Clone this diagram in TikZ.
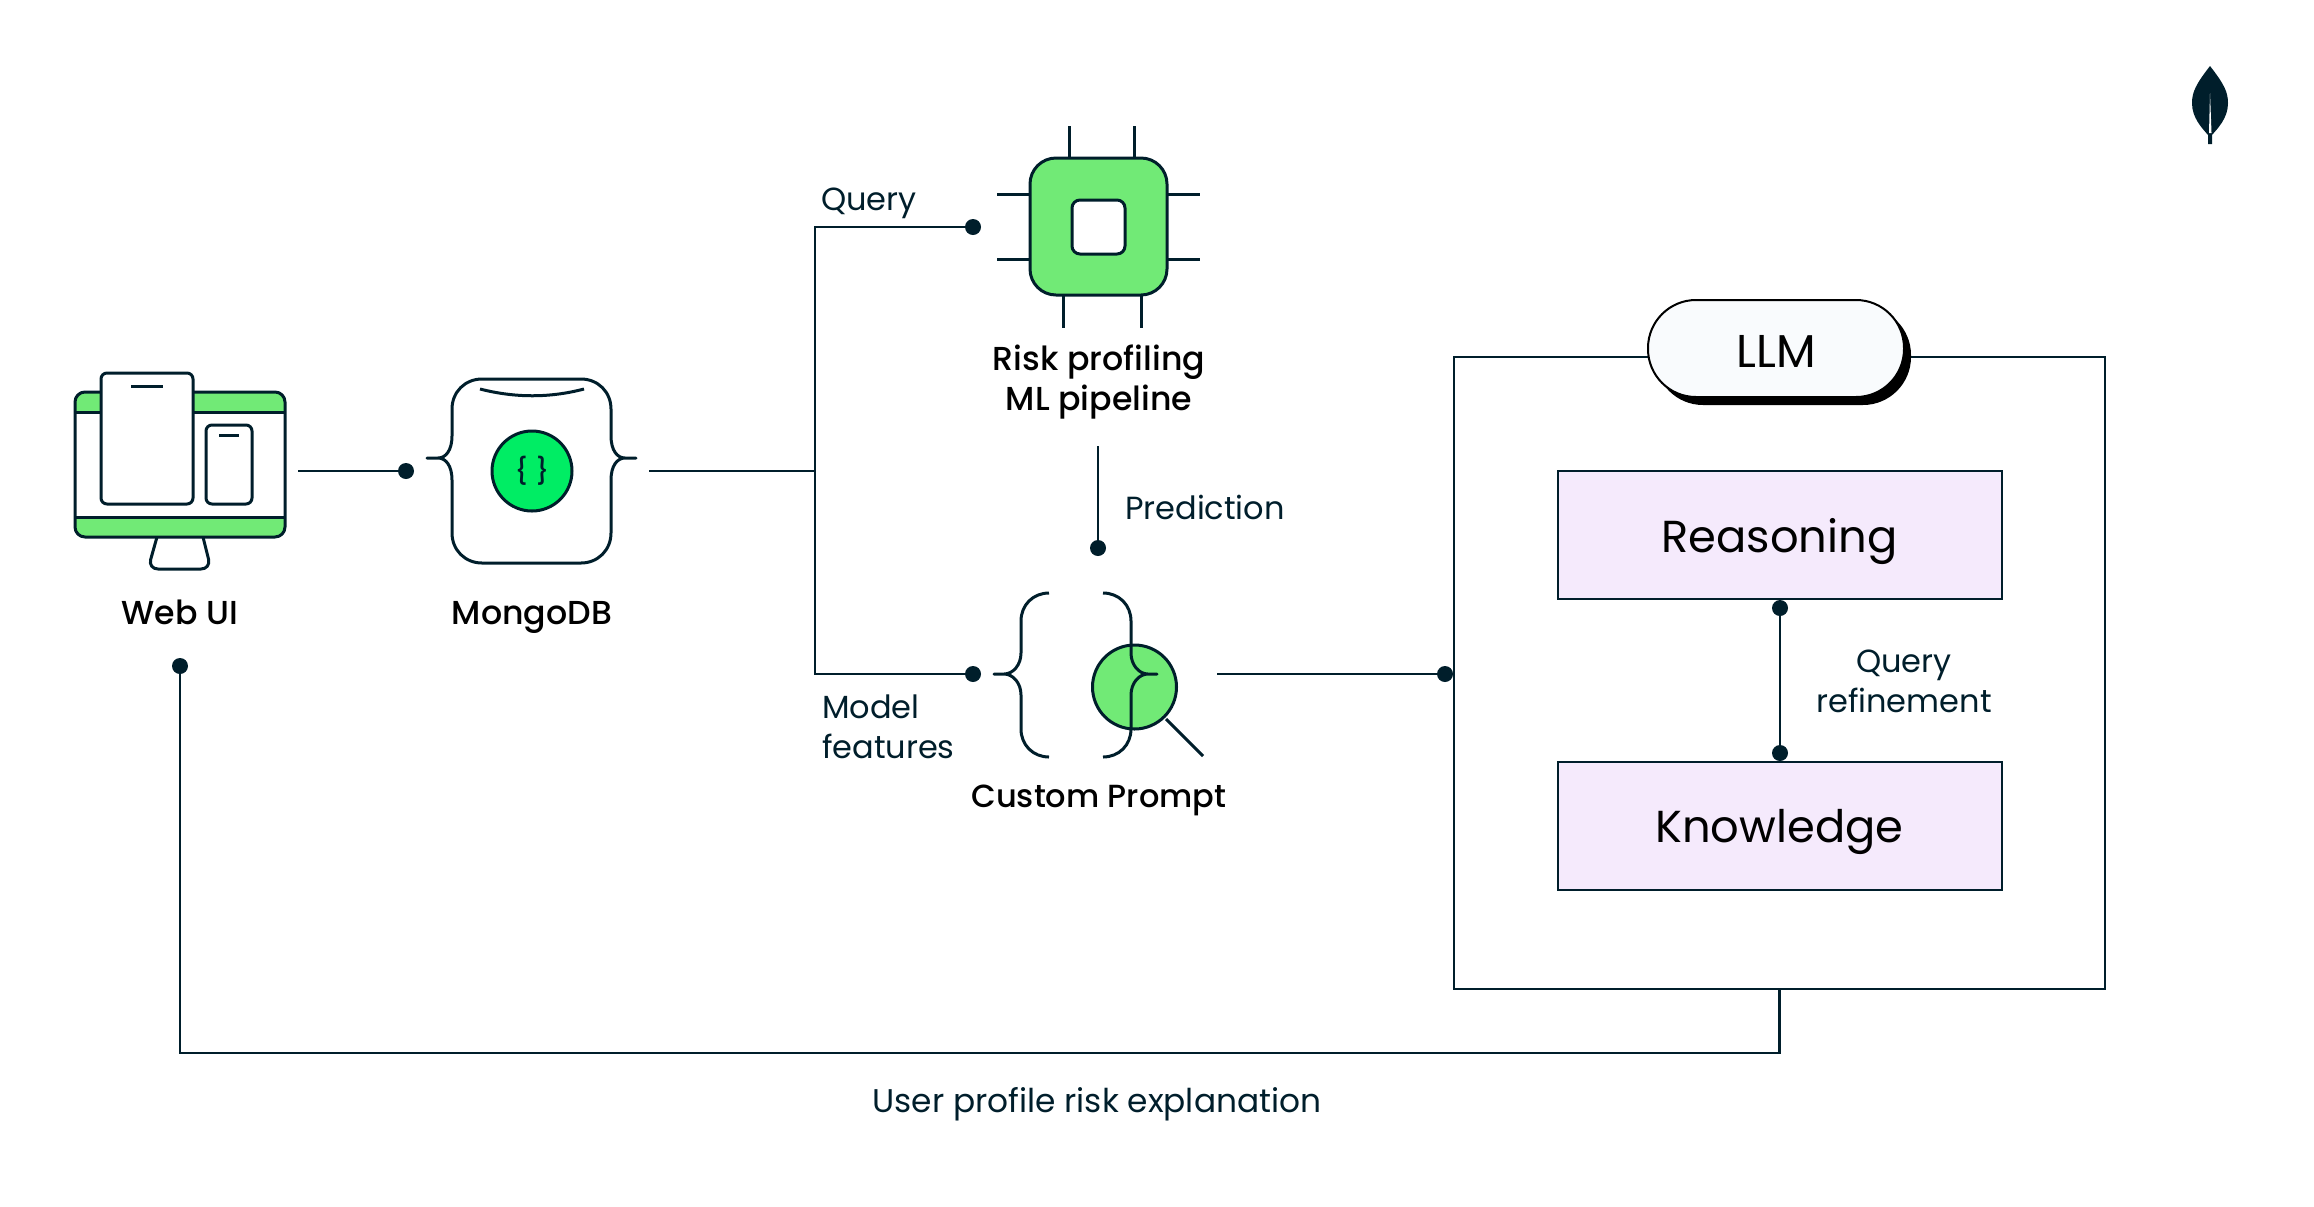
\documentclass[tikz,border=0pt]{standalone}
\usepackage{fontspec}
\setmainfont{Poppins}
\newfontfamily\medfont{Poppins Medium}
\usetikzlibrary{positioning}
\definecolor{ink}{HTML}{001E2B}
\definecolor{leafgreen}{HTML}{71EA76}
\definecolor{brightgreen}{HTML}{00ED64}
\definecolor{lilac}{HTML}{F5EAFC}
\definecolor{pillwhite}{HTML}{F9FBFD}
\tikzset{
    icon/.style={draw=ink,line width=1.5pt,line join=round},
    wire/.style={draw=ink,line width=1.1pt},
    dotnode/.style={circle,fill=ink,inner sep=0pt,minimum size=8pt},
    title/.style={font=\medfont\fontsize{16.6}{20}\selectfont,text=black,align=center},
    note/.style={font=\fontsize{16}{20}\selectfont,text=ink,align=center},
    block/.style={draw=ink,line width=1pt,fill=lilac,minimum width=222pt,minimum height=64pt,text depth=0pt,font=\fontsize{22.4}{26}\selectfont,text=black}
}
\begin{document}
\begin{tikzpicture}[x=0.5pt,y=-0.5pt]
    \useasboundingbox (0,0) rectangle (2314,1206);
    % web ui
    \def\mymonitor{(75,392) rectangle (285,537)}
    \draw [icon,rounded corners=5pt,fill=white] (157,537) -- (148,569) -- (211,569) -- (203,537);
    \begin{scope}
        \clip [rounded corners=5pt] \mymonitor;
        \fill [white] \mymonitor;
        \fill [leafgreen] (75,392) rectangle (285,412);
        \fill [leafgreen] (75,517) rectangle (285,537);
        \draw [icon] (75,412) -- (285,412);
        \draw [icon] (75,517) -- (285,517);
    \end{scope}
    \draw [icon,rounded corners=5pt] \mymonitor;
    \draw [icon,rounded corners=3pt,fill=white] (101,373) rectangle (193,504);
    \draw [icon] (131,386) -- (163,386);
    \draw [icon,rounded corners=3pt,fill=white] (206,425) rectangle (252,504);
    \draw [icon] (219,435) -- (239,435);
    \node [title] (webui) at (180,612) {Web UI};
    % mongodb
    \draw [icon] (482,379) -- (581,379) .. controls (598,379) and (611,392) .. (611,409) -- (611,436)
        .. controls (611,450) and (617,458) .. (625,458) -- (636,458) -- (625,458)
        .. controls (617,458) and (611,466) .. (611,480) -- (611,533)
        .. controls (611,550) and (598,563) .. (581,563) -- (482,563)
        .. controls (465,563) and (452,550) .. (452,533) -- (452,480)
        .. controls (452,466) and (446,458) .. (438,458) -- (427,458) -- (438,458)
        .. controls (446,458) and (452,450) .. (452,436) -- (452,409)
        .. controls (452,392) and (465,379) .. (482,379) -- cycle;
    \draw [icon] (480,389) .. controls (515,398) and (550,398) .. (584,389);
    \node [icon,circle,fill=brightgreen,minimum size=40pt,inner sep=0pt,font=\medfont\fontsize{13}{13}\selectfont,text=ink] (mongoicon) at (532,471) {\{\kern4pt\}};
    \node [title] (mongodb) at (532,617) {MongoDB};
    % risk profiling chip
    \foreach \x in {1069,1134} \draw [icon] (\x,126) -- (\x,157);
    \foreach \x in {1063,1141} \draw [icon] (\x,296) -- (\x,328);
    \foreach \y in {194,259} \draw [icon] (997,\y) -- (1200,\y);
    \draw [icon,rounded corners=13pt,fill=leafgreen] (1030,158) rectangle (1167,295);
    \draw [icon,rounded corners=4pt,fill=white] (1072,200) rectangle (1125,254);
    \node [title] (risk) at (1099,382) {Risk profiling\\ML pipeline};
    % custom prompt
    \draw [icon] (1166,719) -- (1203,756);
    \draw [icon,fill=leafgreen] (1134.5,687) circle [radius=42];
    \draw [icon] (1049,593) .. controls (1033,593) and (1021,605) .. (1021,621) -- (1021,653)
        .. controls (1021,665) and (1013,674) .. (1004,674) -- (994,674) -- (1004,674)
        .. controls (1013,674) and (1021,683) .. (1021,695) -- (1021,729)
        .. controls (1021,745) and (1033,757) .. (1049,757);
    \draw [icon] (1103,593) .. controls (1119,593) and (1131,605) .. (1131,621) -- (1131,653)
        .. controls (1131,665) and (1139,674) .. (1148,674) -- (1157,674) -- (1148,674)
        .. controls (1139,674) and (1131,683) .. (1131,695) -- (1131,729)
        .. controls (1131,745) and (1119,757) .. (1103,757);
    \node [title,font=\medfont\fontsize{16}{20}\selectfont] (prompt) at (1099,800) {Custom Prompt};
    % llm
    \node [draw=ink,line width=1.1pt,minimum width=325.5pt,minimum height=316pt] (llmbox) at (1779.5,673) {};
    \node [fill=black,rounded corners=24pt,minimum width=128pt,minimum height=49pt] (llmshadow) at (1783,356) {};
    \node [draw=black,line width=1pt,fill=pillwhite,rounded corners=24pt,minimum width=128pt,minimum height=48.5pt,text height=19pt,font=\fontsize{23}{24}\selectfont,text=black] (llm) at (1776,348.5) {LLM};
    \node [block] (reasoning) at (1779.5,535) {Reasoning};
    \node [block] (knowledge) at (1779.5,826) {Knowledge};
    \node [dotnode] (topdot) at (1780,608) {};
    \node [dotnode] (lowdot) at (1780,753) {};
    \node [note] (refine) at (1904,681) {Query\\refinement};
    % connectors
    \coordinate (webout) at (298,471);
    \coordinate (mongoout) at (649,471);
    \coordinate (split) at (815,471);
    \coordinate (riskout) at (1098,446);
    \coordinate (promptout) at (1217,674);
    \coordinate (backturn) at (180,1053);
    \node [dotnode] (mongodot) at (406,471) {};
    \node [dotnode] (querydot) at (973,227) {};
    \node [dotnode] (modeldot) at (973,674) {};
    \node [dotnode] (predictdot) at (1098,548) {};
    \node [dotnode] (llmdot) at (1445,674) {};
    \node [dotnode] (webdot) at (180,666) {};
    \draw [wire] (webout) -- (mongodot);
    \draw [wire] (mongoout) -- (split);
    \draw [wire] (querydot) -| (split) |- (modeldot);
    \draw [wire] (riskout) -- (predictdot);
    \draw [wire] (promptout) -- (llmdot);
    \draw [wire] (topdot) -- (lowdot);
    \draw [wire] (llmbox.south) |- (backturn) -- (webdot);
    \node [note,anchor=west] (querytxt) at (814,203) {Query};
    \node [note,anchor=west,align=left] (modeltxt) at (815,727) {Model\\features};
    \node [note,anchor=west] (predicttxt) at (1118,507) {Prediction};
    \node [note,font=\fontsize{16.4}{20}\selectfont] (usertxt) at (1097,1104) {User profile risk explanation};
    % leaf
    \fill [ink] (2210,66) .. controls (2196,84) and (2192,92) .. (2192,103) .. controls (2192,118) and (2202,128) .. (2208,135) -- (2208,144) -- (2212,144) -- (2212,135) .. controls (2218,128) and (2228,118) .. (2228,103) .. controls (2228,92) and (2224,84) .. (2210,66) -- cycle;
    \fill [white] (2210,93) -- (2211.5,133) -- (2209,133) -- cycle;
\end{tikzpicture}
\end{document}
